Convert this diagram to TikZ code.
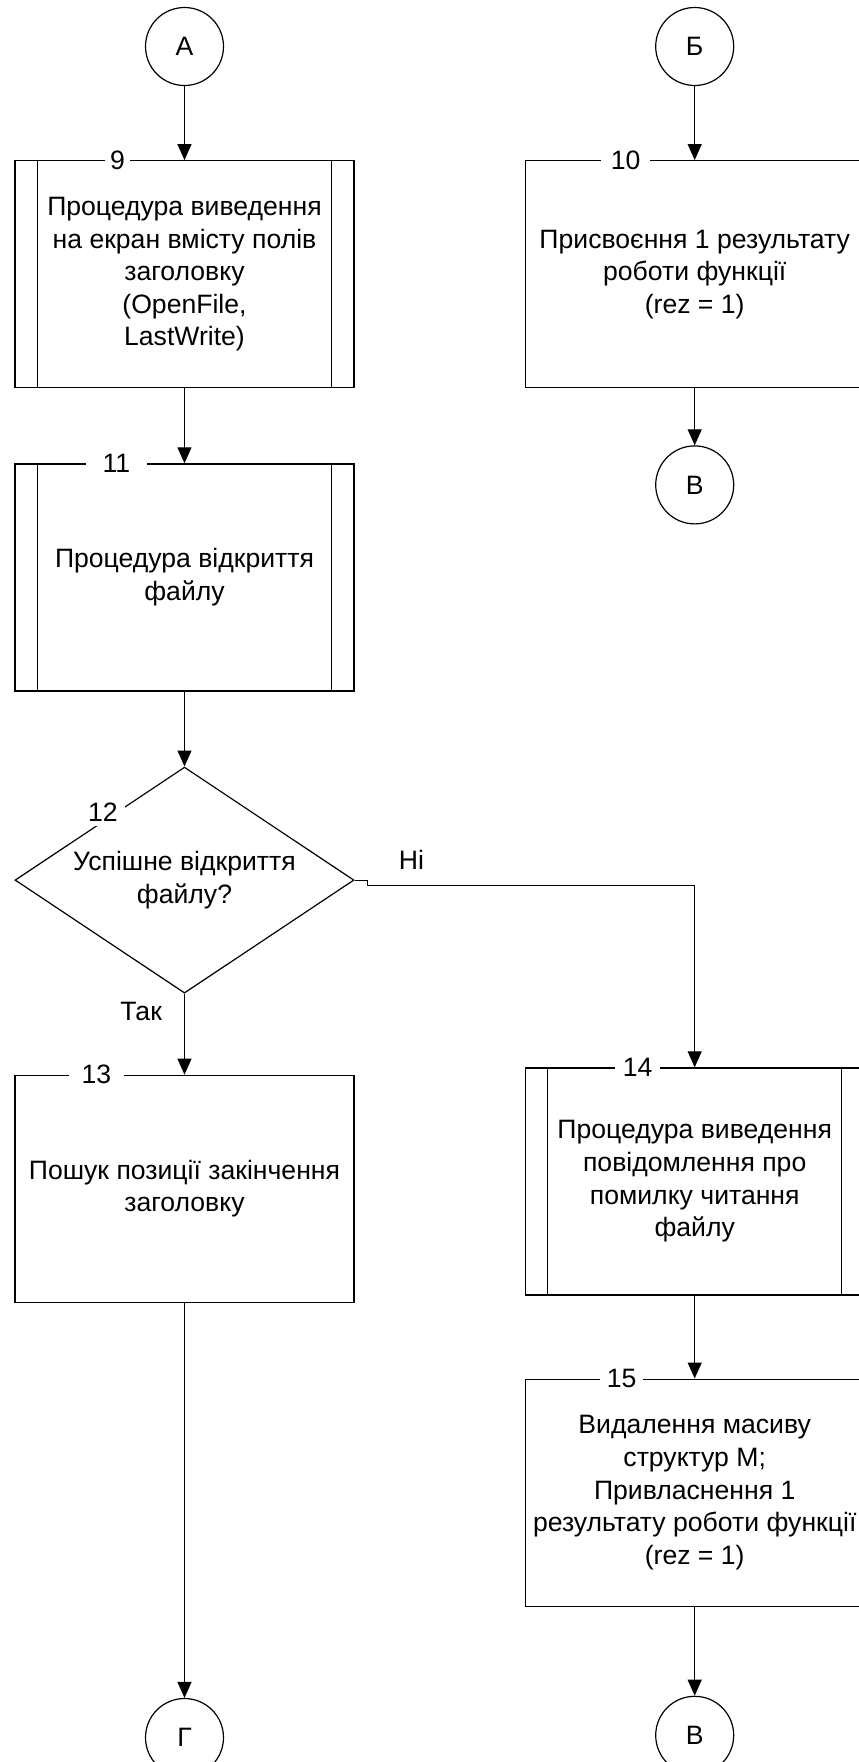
\documentclass[tikz,border=0pt]{standalone}
\usepackage{fontspec}
\setmainfont{Liberation Sans}
\usepackage{tikz}
\usetikzlibrary{shapes.geometric,arrows.meta,positioning}
\tikzset{
    box/.style={rectangle, draw, line width=1.2pt, minimum width=339pt, minimum height=227pt, align=center, inner sep=2pt},
    proc/.style={box, path picture={
        \draw[line width=1.2pt] ([xshift=22.5pt]path picture bounding box.north west) -- ([xshift=22.5pt]path picture bounding box.south west);
        \draw[line width=1.2pt] ([xshift=-22.5pt]path picture bounding box.north east) -- ([xshift=-22.5pt]path picture bounding box.south east);}},
    decision/.style={diamond, draw, line width=1.2pt, minimum width=339pt, minimum height=226pt, aspect=1.5, align=center, inner sep=1pt},
    connector/.style={circle, draw, line width=1.2pt, minimum size=78pt, inner sep=0pt},
    num/.style={fill=white, inner ysep=5pt},
    answer/.style={inner sep=2pt},
    flow/.style={-{Triangle[length=16pt, width=14pt]}, line width=1.2pt},
}

\begin{document}
\begin{tikzpicture}[x=1pt, y=1pt, font=\fontsize{26.6pt}{32.6pt}\selectfont]
    \path[use as bounding box] (0,0) rectangle (859,-1762);
    \clip (0,0) rectangle (859,-1762);

    \node[connector] (A) at (184.5,-46.5) {А};
    \node[proc, below=74pt of A] (b9) {Процедура виведення\\ на екран вмісту полів\\ заголовку\\ (OpenFile,\\ LastWrite)};
    \node[proc, below=75pt of b9] (b11) {Процедура відкриття\\ файлу};
    \node[decision, below=75pt of b11] (d12) {Успішне відкриття\\ файлу?};
    \node[box, below=81pt of d12] (b13) {Пошук позиції закінчення\\ заголовку};
    \node[connector, below=395pt of b13] (G) {Г};

    \node[connector, right=431pt of A] (B) {Б};
    \node[box, below=74pt of B] (b10) {Присвоєння 1 результату\\ роботи функції\\ (rez = 1)};
    \node[connector, below=57pt of b10] (V1) {В};
    \node[proc, below=679pt of b10] (b14) {Процедура виведення\\ повідомлення про\\ помилку читання\\ файлу};
    \node[box, below=83pt of b14] (b15) {Видалення масиву\\ структур М;\\ Привласнення 1\\ результату роботи функції\\ (rez = 1)};
    \node[connector, below=89pt of b15] (V2) {В};

    \node[num, inner xsep=5pt] (n9) at ([xshift=103pt]b9.north west) {9};
    \node[num, inner xsep=10pt] (n10) at ([xshift=101pt]b10.north west) {10};
    \node[num, inner xsep=17pt] (n11) at ([xshift=102pt]b11.north west) {11};
    \node[num, inner xsep=7pt] (n12) at ([shift={(-81.5pt,68pt)}]d12.center) {12};
    \node[num, inner xsep=13pt] (n13) at ([xshift=82pt]b13.north west) {13};
    \node[num, inner xsep=8pt] (n14) at ([xshift=113pt]b14.north west) {14};
    \node[num, inner xsep=7pt] (n15) at ([xshift=97pt]b15.north west) {15};

    \draw[flow] (A) -- (b9);
    \draw[flow] (b9) -- (b11);
    \draw[flow] (b11) -- (d12);
    \draw[flow] (d12.south) -- node[answer, pos=0.22, left=20pt] {Так} (b13.north);
    \draw[flow] (b13) -- (G);
    \draw[flow] (B) -- (b10);
    \draw[flow] (b10) -- (V1);
    \draw[flow] (d12.east) -- ++(13pt,0) -- ++(0,-5pt) -| node[answer, pos=0.067, above=13pt] {Ні} (b14.north);
    \draw[flow] (b14) -- (b15);
    \draw[flow] (b15) -- (V2);
\end{tikzpicture}
\end{document}
